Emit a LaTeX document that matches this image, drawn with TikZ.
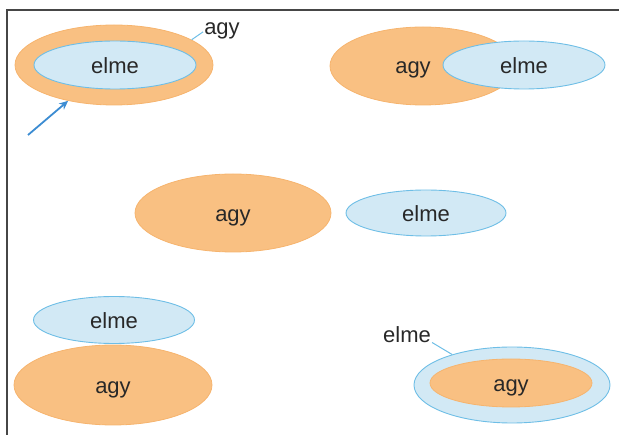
\documentclass[tikz,border=0pt]{standalone}
\usepackage{fontspec}
\setmainfont{Liberation Sans}
\usetikzlibrary{shapes.geometric,arrows.meta}
\definecolor{orfill}{RGB}{249,192,130}
\definecolor{ordraw}{RGB}{246,180,110}
\definecolor{blfill}{RGB}{210,233,245}
\definecolor{bldraw}{RGB}{110,190,230}
\definecolor{txt}{RGB}{40,40,40}
\definecolor{arr}{RGB}{60,140,210}
\definecolor{frame}{RGB}{70,70,70}
\tikzset{
  tx/.style={text=txt, font=\fontsize{22}{24}\selectfont, text height=18pt, text depth=1pt},
  agyell/.style={ellipse, fill=orfill, draw=ordraw, line width=0.8pt, inner sep=0pt, tx},
  elmeell/.style={ellipse, fill=blfill, draw=bldraw, line width=0.9pt, inner sep=0pt, tx},
  lbl/.style={tx, inner sep=1pt},
  leader/.style={draw=bldraw, line width=1pt},
}
\begin{document}
\begin{tikzpicture}[x=1pt,y=-1pt]
\useasboundingbox (0,0) rectangle (619,435);
\draw[frame, line width=1.2pt] (619,10) -- (7,10) -- (7,435);
% 1 top-left
\node[agyell, minimum width=198pt, minimum height=80pt] (o1) at (114,65) {};
\node[elmeell, minimum width=162pt, minimum height=48pt] (b1) at (115,65) {elme};
\node[lbl] (l1) at (222,26) {agy};
\draw[leader] (o1.18) -- (l1.mid west);
\coordinate (a0) at (28,135);
\draw[arr, line width=1.8pt, -{Stealth[length=9pt,width=8pt]}] (a0) -- (o1.218);
% 2 top-right
\node[agyell, minimum width=186pt, minimum height=78pt] (o2) at (423,66) {};
\node[lbl] at (413,65) {agy};
\node[elmeell, minimum width=162pt, minimum height=48pt] (b2) at (524,65) {elme};
% 3 middle
\node[agyell, minimum width=196pt, minimum height=78pt] (o3) at (233,213) {agy};
\node[elmeell, minimum width=160pt, minimum height=46pt] (b3) at (426,213) {elme};
% 4 bottom-left
\node[agyell, minimum width=198pt, minimum height=80pt] (o4) at (113,385) {agy};
\node[elmeell, minimum width=161pt, minimum height=47pt] (b4) at (114,320) {elme};
% 5 bottom-right
\node[elmeell, minimum width=196pt, minimum height=76pt] (b5) at (512,385) {};
\node[agyell, minimum width=162pt, minimum height=48pt] (o5) at (511,383) {agy};
\node[lbl] (l5) at (407,334) {elme};
\draw[leader] (l5.base east) -- (b5.153);
\end{tikzpicture}
\end{document}
